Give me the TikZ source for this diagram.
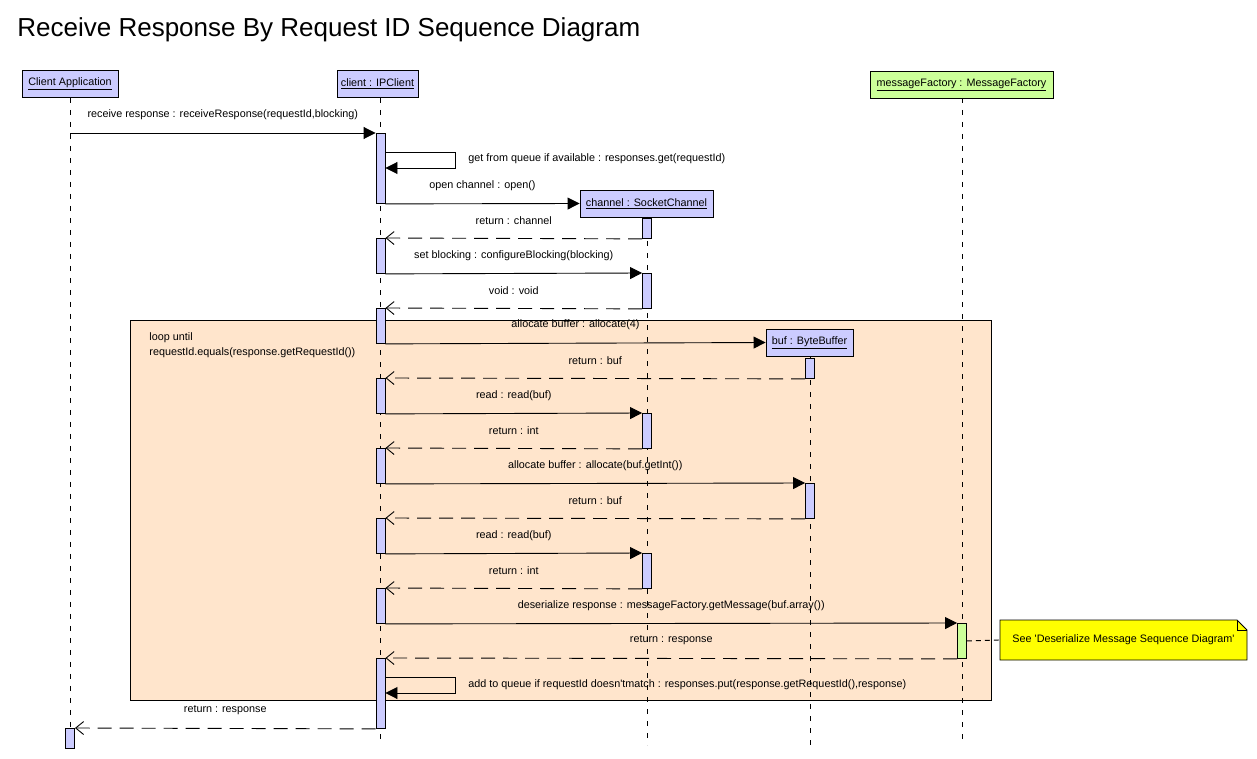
\documentclass[tikz,border=0pt]{standalone}
\usepackage{fontspec}
\setmainfont{Liberation Sans}
\usetikzlibrary{arrows.meta}
\definecolor{barblue}{RGB}{204,204,255}
\definecolor{mfgreen}{RGB}{204,255,153}
\definecolor{loopfill}{RGB}{255,229,204}
\definecolor{noteyellow}{RGB}{255,255,0}
\tikzset{
  head/.style={draw=black, fill=barblue, inner sep=0pt, minimum height=27pt},
  bar/.style={draw=black, fill=barblue, inner sep=0pt, minimum width=9pt, anchor=north},
  life/.style={dash pattern=on 5pt off 7pt},
  msg/.style={-{Triangle[length=12pt,width=12pt]}},
  ret/.style={dash pattern=on 14pt off 8pt, -{Straight Barb[length=8pt,width=13pt]}},
  lbl/.style={midway, yshift=18pt, inner sep=0pt},
  slbl/.style={anchor=west, inner sep=0pt},
}
\begin{document}
\begin{tikzpicture}[x=1pt,y=-1pt, font=\fontsize{10.8}{13}\selectfont, line width=0.9pt]
\useasboundingbox (0,0) rectangle (1257,759);
% title
\node[anchor=west, inner sep=0pt, font=\fontsize{26}{30}\selectfont] (title) at (17,30) {Receive Response By Request ID Sequence Diagram};
% loop frame
\draw[fill=loopfill] (130,320) rectangle (991,700);
\node[anchor=north west, align=left, inner sep=0pt, font=\fontsize{10.8}{15}\selectfont] (looplbl) at (149,332) {loop until\\requestId.equals(response.getRequestId())};
% headers
\node[head, minimum width=96pt] (ca) at (70,84) {\underline{Client Application}};
\node[head, minimum width=81pt] (cl) at (377.5,84) {\underline{client : IPClient}};
\node[head, minimum width=183pt, fill=mfgreen] (mf) at (961.5,84.5) {\underline{messageFactory : MessageFactory}};
\node[head, minimum width=133pt] (ch) at (646.5,203.5) {\underline{channel : SocketChannel}};
\node[head, minimum width=87pt] (buf) at (809.5,342.5) {\underline{buf : ByteBuffer}};
% lifelines
\coordinate (caend) at (70,728);
\draw[life] (ca.south -| caend) -- (caend);
\draw[life] (380,98) -- (380,745);
\draw[life] (647,217) -- (647,745);
\draw[life] (810,356) -- (810,745);
\draw[life] (962,98) -- (962,745);
% activation bars client
\node[bar, minimum height=70pt] (c1) at (380.5,133) {};
\node[bar, minimum height=35pt] (c2) at (380.5,238) {};
\node[bar, minimum height=35pt] (c3) at (380.5,308) {};
\node[bar, minimum height=35pt] (c4) at (380.5,378) {};
\node[bar, minimum height=35pt] (c5) at (380.5,448) {};
\node[bar, minimum height=35pt] (c6) at (380.5,518) {};
\node[bar, minimum height=35pt] (c7) at (380.5,588) {};
\node[bar, minimum height=70pt] (c8) at (380.5,658) {};
% channel bars
\node[bar, minimum height=20pt] (h1) at (647,218) {};
\node[bar, minimum height=35pt] (h2) at (647,273) {};
\node[bar, minimum height=35pt] (h3) at (647,413) {};
\node[bar, minimum height=35pt] (h4) at (647,553) {};
% buf bars
\node[bar, minimum height=20pt] (u1) at (810,358) {};
\node[bar, minimum height=35pt] (u2) at (810,483) {};
% messageFactory bar
\node[bar, minimum height=35pt, fill=mfgreen] (m1) at (962,623) {};
% client app bar
\node[bar, minimum height=20pt] (a1) at (70,728) {};
% messages
\coordinate (s1) at (70,133);
\draw[msg] (s1) -- (c1.north west) node[lbl] {receive response : receiveResponse(requestId,blocking)};
\draw[msg] ([yshift=-19pt]c1.north east) -- ++(70,0) -- ++(0,16) -- ([yshift=-35pt]c1.north east);
\node[slbl] (sl1) at (468,159) {get from queue if available : responses.get(requestId)};
\draw[msg] (c1.south east) -- (ch.west) node[lbl] {open channel : open()};
\draw[ret] (h1.south west) -- (c2.north east) node[lbl] {return : channel};
\draw[msg] (c2.south east) -- (h2.north west) node[lbl] {set blocking : configureBlocking(blocking)};
\draw[ret] (h2.south west) -- (c3.north east) node[lbl] {void : void};
\draw[msg] (c3.south east) -- (buf.west) node[lbl] {allocate buffer : allocate(4)};
\draw[ret] (u1.south west) -- (c4.north east) node[lbl] {return : buf};
\draw[msg] (c4.south east) -- (h3.north west) node[lbl] {read : read(buf)};
\draw[ret] (h3.south west) -- (c5.north east) node[lbl] {return : int};
\draw[msg] (c5.south east) -- (u2.north west) node[lbl] {allocate buffer : allocate(buf.getInt())};
\draw[ret] (u2.south west) -- (c6.north east) node[lbl] {return : buf};
\draw[msg] (c6.south east) -- (h4.north west) node[lbl] {read : read(buf)};
\draw[ret] (h4.south west) -- (c7.north east) node[lbl] {return : int};
\draw[msg] (c7.south east) -- (m1.north west) node[lbl] {deserialize response : messageFactory.getMessage(buf.array())};
\draw[ret] (m1.south west) -- (c8.north east) node[lbl] {return : response};
\draw[msg] ([yshift=-19pt]c8.north east) -- ++(70,0) -- ++(0,16) -- ([yshift=-35pt]c8.north east);
\node[slbl] (sl2) at (468,685) {add to queue if requestId doesn\textquotesingle tmatch : responses.put(response.getRequestId(),response)};
\draw[ret] (c8.south west) -- (a1.north east) node[lbl] {return : response};
% note
\draw[fill=noteyellow] (1000,620) -- (1237,620) -- (1247,630) -- (1247,660) -- (1000,660) -- cycle;
\draw (1237,620) -- (1237,630) -- (1247,630);
\node[minimum width=247pt, minimum height=40pt, inner sep=0pt] (note) at (1123.5,640) {See \textquotesingle Deserialize Message Sequence Diagram\textquotesingle};
\draw[dash pattern=on 5pt off 4pt] (m1.east) -- (note.west);
\end{tikzpicture}
\end{document}
